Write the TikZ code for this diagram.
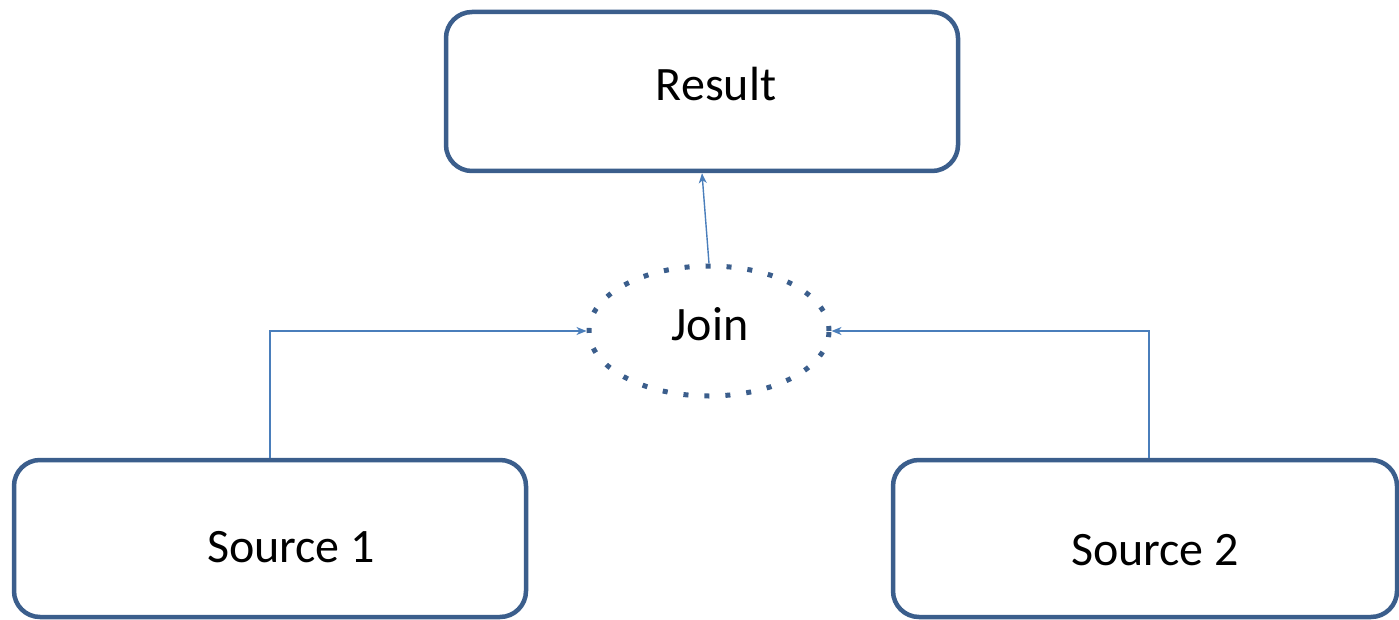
\documentclass[tikz,border=0pt]{standalone}
\usepackage{fontspec}
\setmainfont{Carlito}
\usetikzlibrary{shapes.geometric,arrows.meta}
\definecolor{boxblue}{HTML}{3B5E8C}
\definecolor{linkblue}{HTML}{4A7EBB}
\begin{document}
\begin{tikzpicture}[x=1pt,y=-1pt,
  box/.style={draw=boxblue,line width=4.5pt,rounded corners=26pt,fill=white,inner sep=0pt},
  lbl/.style={font=\fontsize{48}{56}\selectfont,inner sep=0pt,text=black},
  joinshape/.style={ellipse,draw=boxblue,line width=5pt,dash pattern=on 5pt off 16pt,inner sep=0pt,minimum width=240pt,minimum height=130pt},
  conn/.style={draw=linkblue,line width=1.4pt,-{Stealth[length=10pt,width=8pt,inset=3pt]}}]
\useasboundingbox (0,0) rectangle (1399,620);
\node[box,minimum width=512pt,minimum height=159pt] (r) at (702,91.5) {};
\node[box,minimum width=512pt,minimum height=157pt] (s1) at (270,538.5) {};
\node[box,minimum width=504pt,minimum height=157pt] (s2) at (1145,538.5) {};
\node[joinshape] (j) at (709,331) {};
\node[lbl] (rt) at (716,84) {Result};
\node[lbl] (jt) at (710,324) {Join};
\node[lbl] (s1t) at (291,547) {Source 1};
\node[lbl] (s2t) at (1155,550) {Source 2};
\draw[conn] (s1.north) |- (j.west);
\draw[conn] ([xshift=4pt]s2.north) |- (j.east);
\draw[conn] (j.north) -- (r.south);
\end{tikzpicture}
\end{document}
